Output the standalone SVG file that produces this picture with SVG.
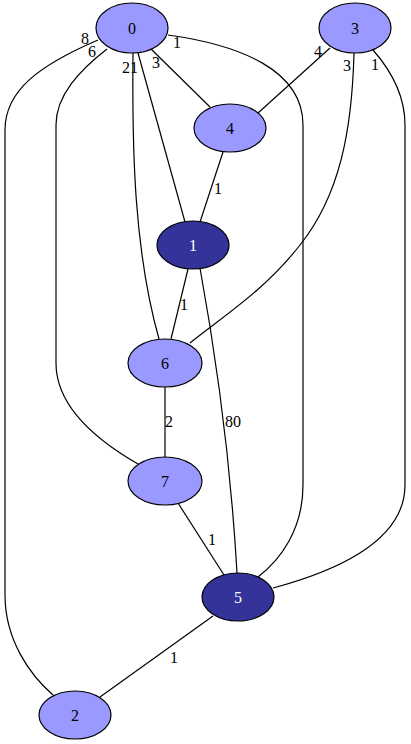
<svg xmlns="http://www.w3.org/2000/svg" width="411" height="744" viewBox="0 0 411 744">
<style>
.e{fill:none;stroke:#000;stroke-width:1.2}
.n ellipse{stroke:#000;stroke-width:1.2}
.l{fill:#9999ff}
.d{fill:#333399}
text{font-family:"Liberation Serif","Times New Roman",serif;font-size:16px;text-anchor:middle;fill:#000}
.w{fill:#fff}
</style>
<rect width="411" height="744" fill="#fff"/>
<g id="edges">
<path class="e" d="M98,40 C40,65 5,90 5,130 L5,595 C5,640 30,675 53,695"/>
<path class="e" d="M107,49 C80,70 56,95 56,125 L56,363 C56,410 105,445 138,464"/>
<path class="e" d="M133,53 C132,150 134,250 159,339"/>
<path class="e" d="M138,53 L185,222"/>
<path class="e" d="M150,48 L210,107"/>
<path class="e" d="M168,35 C240,45 303,70 303,125 L303,485 C303,530 280,560 258,577"/>
<path class="e" d="M330,48 L258,113"/>
<path class="e" d="M354,53 C352,130 340,195 300,245 C265,290 225,315 190,343"/>
<path class="e" d="M373,50 C395,75 405,100 405,125 L405,485 C405,540 340,570 273,588"/>
<path class="e" d="M223,152 L200,222"/>
<path class="e" d="M188,269 L171,339"/>
<path class="e" d="M200,268 C215,350 230,450 237,573"/>
<path class="e" d="M165,387 L165,457"/>
<path class="e" d="M178,503 L224,575"/>
<path class="e" d="M213,616 L100,697"/>
<text x="85" y="44">8</text>
<text x="92" y="57">6</text>
<text x="130" y="73">21</text>
<text x="156" y="68">3</text>
<text x="177" y="48">1</text>
<text x="318" y="57">4</text>
<text x="347" y="71">3</text>
<text x="375" y="70">1</text>
<text x="218" y="194">1</text>
<text x="184" y="310">1</text>
<text x="169" y="427">2</text>
<text x="233" y="427">80</text>
<text x="212" y="545">1</text>
<text x="174" y="663">1</text>
</g>
<g id="node0" class="n"><ellipse class="l" cx="132" cy="28" rx="36" ry="25"/><text x="132" y="34">0</text></g>
<g id="node3" class="n"><ellipse class="l" cx="355" cy="28" rx="36" ry="25"/><text x="355" y="34">3</text></g>
<g id="node4" class="n"><ellipse class="l" cx="230" cy="128" rx="36" ry="24"/><text x="230" y="134">4</text></g>
<g id="node1" class="n"><ellipse class="d" cx="193" cy="245" rx="36" ry="24"/><text class="w" x="193" y="251">1</text></g>
<g id="node6" class="n"><ellipse class="l" cx="165" cy="363" rx="37" ry="24"/><text x="165" y="369">6</text></g>
<g id="node7" class="n"><ellipse class="l" cx="165" cy="481" rx="37" ry="24"/><text x="165" y="487">7</text></g>
<g id="node5" class="n"><ellipse class="d" cx="238" cy="597" rx="36" ry="24"/><text class="w" x="238" y="603">5</text></g>
<g id="node2" class="n"><ellipse class="l" cx="75" cy="715" rx="36" ry="24"/><text x="75" y="721">2</text></g>
</svg>
